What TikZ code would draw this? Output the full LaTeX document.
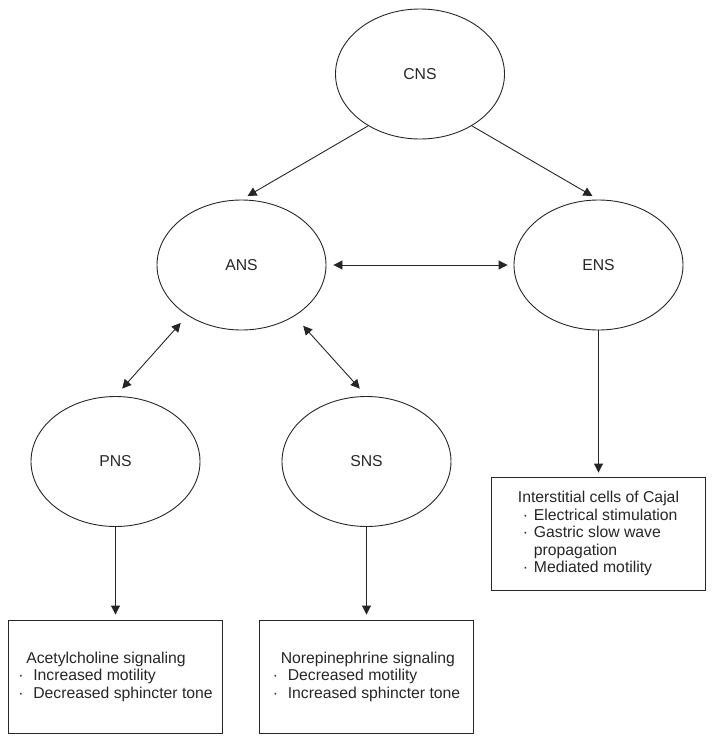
\documentclass[tikz,border=0pt]{standalone}
\usepackage{fontspec}
\setmainfont{Liberation Sans}
\usepackage{tikz}
\usetikzlibrary{shapes.geometric, positioning, arrows.meta}
\newcommand{\dotitem}[2][15pt]{\makebox[#1][l]{·}#2}
\tikzset{
>={Triangle[length=9pt,width=9pt]}, % filled triangle heads
every node/.style={font=\fontsize{15.75}{17.5}\selectfont, text=black!85}, % text size
system/.style={ellipse, draw=black!85, line width=0.9pt, minimum width=169pt, minimum height=130pt, inner sep=0pt}, % the ellipses
effect/.style={rectangle, draw=black!85, line width=0.9pt, minimum width=214pt, minimum height=113pt, align=left}, % the boxes
link/.style={draw=black!85, line width=0.9pt}, % the connectors
}
\begin{document}
\begin{tikzpicture}

            \useasboundingbox (0,0) rectangle (715pt,-742pt);

            \node[system] (cns) at (420pt,-74pt) {CNS};

            \node [system, below of=cns, node distance=191pt, xshift=-178.5pt] (ans) {ANS};
            \node [system, below of=cns, node distance=191pt, xshift=178.5pt] (ens) {ENS};
            \node [system, below of=ans, node distance=196.5pt, xshift=-126pt] (pns) {PNS};
            \node [system, right of=pns, node distance=251pt] (sns) {SNS};

            \node [effect, below of=pns, node distance=215pt] (acetyl)
                {\hspace*{8pt}Acetylcholine signaling\\
                 \dotitem{Increased motility}\\
                 \dotitem{Decreased sphincter tone}};
            \node [effect, below of=sns, node distance=215pt] (norepi)
                {\hspace*{8pt}Norepinephrine signaling\\
                 \dotitem{Decreased motility}\\
                 \dotitem{Increased sphincter tone}};
            \node [effect, below of=ens, node distance=268.5pt] (icc)
                {Interstitial cells of Cajal\\
                 \hspace*{5pt}\dotitem[11pt]{Electrical stimulation}\\
                 \hspace*{5pt}\dotitem[11pt]{Gastric slow wave}\\
                 \hspace*{16pt}propagation\\
                 \hspace*{5pt}\dotitem[11pt]{Mediated motility}};

            \draw[link, ->, shorten >=7pt] (cns.-135) -- (ans.north);
            \draw[link, ->, shorten >=7pt] (cns.-45) -- (ens.north);
            \draw[link, <->, shorten <=7pt, shorten >=6pt] (ans) -- (ens);
            \draw[link, <->, shorten <=10pt, shorten >=10pt] (ans.-137) -- (pns.north);
            \draw[link, <->, shorten <=13pt, shorten >=10pt] (ans.-44) -- (sns.north);
            \draw[link, ->, shorten >=5pt] (pns) -- (acetyl);
            \draw[link, ->, shorten >=5pt] (sns) -- (norepi);
            \draw[link, ->, shorten >=4pt] (ens) -- (icc);
        \end{tikzpicture}
\end{document}
